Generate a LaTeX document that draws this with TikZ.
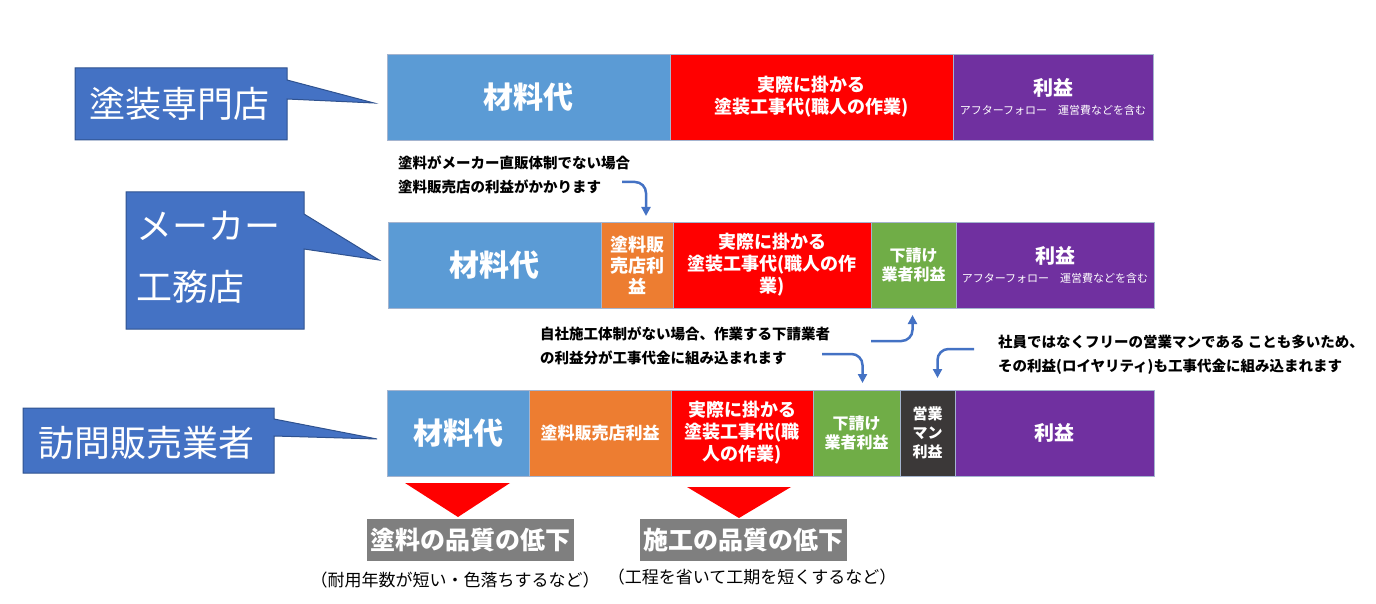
\documentclass[tikz,border=0pt]{standalone}
\usepackage{fontspec}
\setmainfont{Noto Sans CJK JP}
\usetikzlibrary{positioning,calc,arrows.meta}

\definecolor{matblue}{HTML}{5B9BD5}
\definecolor{workred}{HTML}{FF0000}
\definecolor{gainpurple}{HTML}{7030A0}
\definecolor{shoporange}{HTML}{ED7D31}
\definecolor{subgreen}{HTML}{70AD47}
\definecolor{saledark}{HTML}{3B3838}
\definecolor{callblue}{HTML}{4472C4}
\definecolor{callline}{HTML}{2F528F}
\definecolor{barline}{HTML}{A4B4CF}
\definecolor{qgray}{HTML}{7F7F7F}

\begin{document}
\begin{tikzpicture}[x=1pt, y=-1pt,
  seg/.style={draw=barline, line width=0.8pt, text=white, align=center,
    inner sep=0pt, outer sep=0pt, minimum height=86pt,
    font=\bfseries\fontsize{18}{22}\selectfont},
  matbox/.style={seg, fill=matblue, font=\bfseries\fontsize{30}{32}\selectfont},
  gainbox/.style={seg, fill=gainpurple, font=\bfseries\fontsize{20}{22}\selectfont},
  smallseg/.style={seg, font=\bfseries\fontsize{16}{19}\selectfont},
  callout/.style={fill=callblue, draw=callline, line width=1pt},
  calltext/.style={text=white, inner sep=0pt, font=\fontsize{36}{61}\selectfont},
  ann/.style={anchor=west, align=left, inner sep=0pt, font=\bfseries\fontsize{14.5}{24}\selectfont},
  qbox/.style={fill=qgray, text=white, inner sep=0pt, minimum width=207pt,
    minimum height=42pt, font=\bfseries\fontsize{25}{27}\selectfont},
  note/.style={inner sep=0pt, font=\fontsize{17}{19}\selectfont},
  flow/.style={draw=callblue, line width=2.5pt, -{Triangle[length=9pt,width=9pt]}, rounded corners=11pt}
]
\useasboundingbox (0,0) rectangle (1376,604);

% row 1
\node[matbox, minimum width=283pt] (m1) at (528.5,97) {材料代};
\node[seg, fill=workred, minimum width=283pt, right=0pt of m1] (w1) {実際に掛かる\\塗装工事代(職人の作業)};
\node[gainbox, minimum width=200pt, right=0pt of w1] (p1) {利益\\[-3pt]{\mdseries\fontsize{11}{13}\selectfont アフターフォロー　運営費などを含む}};

% row 2
\node[matbox, minimum width=213pt] (m2) at (494.5,265) {材料代};
\node[seg, fill=shoporange, minimum width=72pt, right=0pt of m2, font=\bfseries\fontsize{18}{21}\selectfont] (o2) {塗料販\\売店利\\益};
\node[seg, fill=workred, minimum width=198pt, right=0pt of o2] (w2) {実際に掛かる\\塗装工事代(職人の作\\業)};
\node[smallseg, fill=subgreen, minimum width=85pt, right=0pt of w2] (g2) {下請け\\業者利益};
\node[gainbox, minimum width=198pt, right=0pt of g2] (p2) {利益\\[-3pt]{\mdseries\fontsize{11}{13}\selectfont アフターフォロー　運営費などを含む}};

% row 3
\node[matbox, minimum width=142pt] (m3) at (458,433) {材料代};
\node[seg, fill=shoporange, minimum width=142pt, right=0pt of m3, font=\bfseries\fontsize{17}{19}\selectfont] (o3) {塗料販売店利益};
\node[seg, fill=workred, minimum width=142pt, right=0pt of o3] (w3) {実際に掛かる\\塗装工事代(職\\人の作業)};
\node[smallseg, fill=subgreen, minimum width=87pt, right=0pt of w3] (g3) {下請け\\業者利益};
\node[seg, fill=saledark, minimum width=55pt, right=0pt of g3, font=\bfseries\fontsize{15}{19}\selectfont] (s3) {営業\\マン\\利益};
\node[gainbox, minimum width=199pt, right=0pt of s3] (p3) {利益};

% callouts
\filldraw[callout] (75,68) -- (287,68) -- (287,80) -- (374,103) -- (287,99) -- (287,140) -- (75,140) -- cycle;
\node[calltext] (c1) at (179,104) {塗装専門店};
\filldraw[callout] (126,192) -- (304,192) -- (304,214) -- (379,260) -- (304,249) -- (304,329) -- (126,329) -- cycle;
\node[calltext, anchor=west, align=left] (c2) at (136,257) {メーカー\\工務店};
\filldraw[callout] (23,408) -- (274,408) -- (274,419) -- (377,439) -- (274,436) -- (274,473) -- (23,473) -- cycle;
\node[calltext] (c3) at (146,443) {訪問販売業者};

% notes
\node[ann] (n1) at (398,175) {塗料がメーカー直販体制でない場合\\塗料販売店の利益がかかります};
\node[ann] (n2) at (540,346) {自社施工体制がない場合、作業する下請業者\\の利益分が工事代金に組み込まれます};
\node[ann] (n3) at (998,355) {社員ではなくフリーの営業マンである ことも多いため、\\その利益(ロイヤリティ)も工事代金に組み込まれます};

% arrows
\coordinate (a1) at (622,182);
\coordinate (a2) at (871,341);
\coordinate (a3) at (822,354);
\coordinate (a4) at (974,349);
\draw[flow] (a1) -| ($(o2.north)+(9,-6)$);
\draw[flow] (a2) -| ($(g2.south)+(-1,7)$);
\draw[flow] (a3) -| ($(g3.north)+(6,-7)$);
\draw[flow] (a4) -| ($(s3.north)+(10,-12)$);

% results
\fill[workred] (405,483) -- (510,483) -- (458,517) -- cycle;
\fill[workred] (687,487) -- (791,487) -- (739,518) -- cycle;
\node[qbox] (q1) at (470.5,540) {塗料の品質の低下};
\node[qbox] (q2) at (743.5,540) {施工の品質の低下};
\node[note] (r1) at (455,580) {（耐用年数が短い・色落ちするなど）};
\node[note] (r2) at (752,577) {（工程を省いて工期を短くするなど）};

\end{tikzpicture}
\end{document}
